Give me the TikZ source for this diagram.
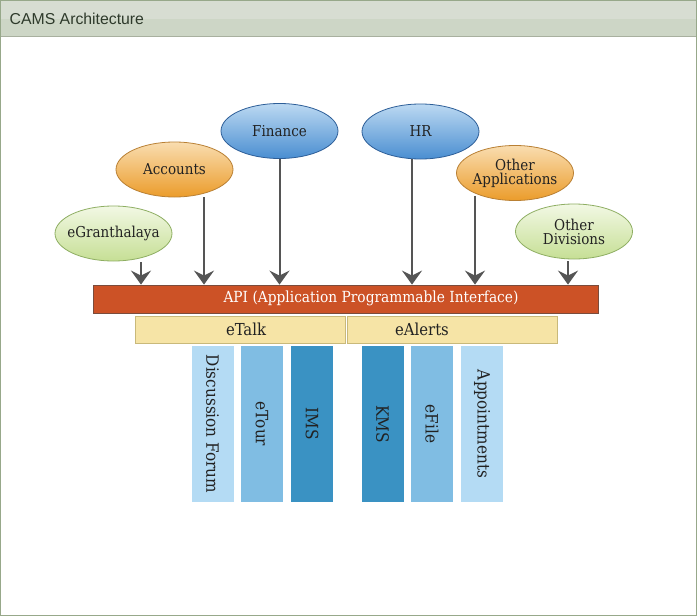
\documentclass[tikz,border=0pt]{standalone}
\usepackage{fontspec}
\setmainfont{DejaVu Serif Condensed}
\newfontfamily\titlefont{Liberation Sans}
\usetikzlibrary{shapes.geometric,arrows.meta}
\newcommand{\zb}[1]{\makebox[0pt]{#1}}
\definecolor{frame}{HTML}{97A88A}
\definecolor{hdtop}{HTML}{D7DDD2}
\definecolor{hdbot}{HTML}{CDD6C6}
\definecolor{hdline}{HTML}{A8B09F}
\definecolor{titlec}{HTML}{2E3A2B}
\definecolor{txt}{HTML}{222222}
\definecolor{grnt}{HTML}{F2F8E4}
\definecolor{grnbot}{HTML}{C6DF95}
\definecolor{grnb}{HTML}{8EAE62}
\definecolor{orgt}{HTML}{F9DDB0}
\definecolor{orgbot}{HTML}{EB9C2B}
\definecolor{orgb}{HTML}{B98034}
\definecolor{blut}{HTML}{BCD9F2}
\definecolor{blubot}{HTML}{4A8ED1}
\definecolor{blub}{HTML}{2D5E98}
\definecolor{arrc}{HTML}{555555}
\definecolor{apif}{HTML}{CC5226}
\definecolor{apib}{HTML}{7A4C3C}
\definecolor{tanf}{HTML}{F6E4A6}
\definecolor{tanb}{HTML}{C9B97A}
\definecolor{vlight}{HTML}{B4DBF4}
\definecolor{vmid}{HTML}{80BDE3}
\definecolor{vdark}{HTML}{3A92C3}
\tikzset{
  ell/.style={ellipse, minimum width=117pt, minimum height=55pt, inner sep=0pt,
    line width=0.8pt, align=center, text=txt,
    font=\fontsize{15}{14}\selectfont},
  grn/.style={ell, draw=grnb, top color=grnt, bottom color=grnbot},
  org/.style={ell, draw=orgb, top color=orgt, bottom color=orgbot},
  blu/.style={ell, draw=blub, top color=blut, bottom color=blubot},
  arr/.style={draw=arrc, line width=2pt, -{Stealth[length=14pt,width=20pt,inset=5pt]}},
  lbl/.style={font=\fontsize{16.5}{18}\selectfont, text=txt, inner sep=0pt},
  tanbox/.style={draw=tanb, fill=tanf, line width=0.8pt, minimum width=210pt, minimum height=27pt, inner sep=0pt},
  vbar/.style={minimum width=156pt, minimum height=42pt, inner sep=0pt, rotate=-90,
    font=\fontsize{17}{18}\selectfont, text=txt}
}
\begin{document}
\begin{tikzpicture}[x=1pt,y=-1pt]
\useasboundingbox (0,0) rectangle (697,616);
\fill[white] (0,0) rectangle (697,616);
\fill[hdtop] (0,0) rectangle (697,19);
\fill[hdbot] (0,19) rectangle (697,36);
\draw[hdline, line width=1.2pt] (0,36.6) -- (697,36.6);
\draw[frame, line width=2.4pt] (0,0) rectangle (697,616);
\node[anchor=west, font=\titlefont\fontsize{15.8}{18}\selectfont, text=titlec, inner sep=0pt] (title) at (9.5,19) {CAMS Architecture};

\node[grn] (egr) at (113.5,233.5) {\zb{eGranthalaya}};
\node[org] (acc) at (174.5,169.5) {\zb{Accounts}};
\node[blu] (fin) at (279.5,131) {\zb{Finance}};
\node[blu] (hr) at (420.5,131.5) {\zb{HR}};
\node[org] (oapp) at (515,173) {\zb{Other}\\\zb{Applications}};
\node[grn] (odiv) at (574,231.5) {\zb{Other}\\\zb{Divisions}};

\node[draw=apib, fill=apif, line width=0.8pt, minimum width=505pt, minimum height=28pt, inner sep=0pt] (api) at (345.5,299) {};
\node[font=\fontsize{15.3}{16}\selectfont, text=white, inner sep=0pt] (apit) at (371,298) {API (Application Programmable Interface)};

\draw[arr] ([xshift=27.5pt,yshift=-1pt]egr.south) -- ([xshift=27.5pt]egr.south |- api.north);
\draw[arr] ([xshift=29.5pt]acc.south) -- ([xshift=29.5pt]acc.south |- api.north);
\draw[arr] (fin.south) -- (fin.south |- api.north);
\draw[arr] ([xshift=-8.5pt]hr.south) -- ([xshift=-8.5pt]hr.south |- api.north);
\draw[arr] ([xshift=-40pt,yshift=5pt]oapp.south) -- ([xshift=-40pt]oapp.south |- api.north);
\draw[arr] ([xshift=-6pt,yshift=-2pt]odiv.south) -- ([xshift=-6pt]odiv.south |- api.north);

\node[tanbox] (etalk) at (240,329.5) {};
\node[tanbox] (ealert) at (452,329.5) {};
\node[lbl] (etalkt) at (246,329) {eTalk};
\node[lbl] (ealertt) at (422,329) {eAlerts};

\node[vbar, fill=vlight] (df) at (212.5,424) {Discussion Forum};
\node[vbar, fill=vmid] (etour) at (262,424) {eTour};
\node[vbar, fill=vdark] (ims) at (312,424) {IMS};
\node[vbar, fill=vdark] (kms) at (382.5,424) {KMS};
\node[vbar, fill=vmid] (efile) at (432,424) {eFile};
\node[vbar, fill=vlight] (appt) at (482,424) {Appointments};
\end{tikzpicture}
\end{document}
